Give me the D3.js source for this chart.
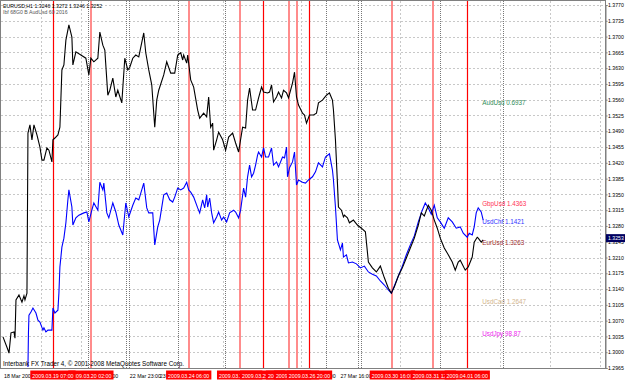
<!DOCTYPE html>
<html>
<head>
<meta charset="utf-8">
<script src="https://cdn.jsdelivr.net/npm/d3@7"></script>
<style>
    body { margin: 0; background: #fff; }
    svg { display: block; font-family: "Liberation Sans", Arial, sans-serif; }
</style>
</head>
<body>
<svg id="chart" width="625" height="380"></svg>
<script>
// EURUSD H1 close, [bar, price]
const eurusd = [
    [1,1.3034],[3.5,1.3005],[4,1.2998],[5,1.3043],[6.5,1.3045],[7,1.3031],[7.5,1.3116],[9,1.3127],
    [10.5,1.3111],[11.5,1.3125],[12,1.3116],[13,1.3131],[13.5,1.3486],[14.5,1.3504],[15.5,1.3471],
    [16.5,1.3504],[18,1.3482],[19.5,1.3455],[20.5,1.3426],[21.5,1.3426],[23,1.3453],[24,1.3448],
    [25.5,1.3422],[26,1.3471],[27,1.3475],[28.5,1.3482],[29.5,1.3499],[30.5,1.3626],[31.5,1.3637],
    [32.5,1.3692],[34,1.3726],[35.5,1.3699],[36,1.3637],[37.5,1.3666],[40,1.3659],[42.5,1.3652],
    [44,1.3615],[45,1.3652],[46.5,1.3644],[48.5,1.3652],[49.5,1.3710],[51,1.3681],[52,1.3670],
    [53.5,1.3570],[54.5,1.3581],[56,1.3608],[57.5,1.3566],[58.5,1.3581],[60.5,1.3553],[62,1.3652],
    [63.5,1.3626],[64.5,1.3632],[66,1.3652],[67.5,1.3659],[69,1.3655],[71.5,1.3708],[72.5,1.3664],
    [74,1.3626],[75.5,1.3593],[77,1.3499],[78,1.3559],[79,1.3581],[81.5,1.3615],[83,1.3644],
    [85,1.3619],[87,1.3619],[88.5,1.3659],[90,1.3664],[91,1.3648],[91.5,1.3659],[93,1.3641],
    [93.5,1.3659],[95,1.3604],[96.5,1.3588],[98.5,1.3537],[99.5,1.3519],[101.5,1.3530],[103,1.3522],
    [104,1.3566],[105,1.3499],[106,1.3508],[106.5,1.3448],[108,1.3471],[109,1.3488],[111,1.3471],
    [112.5,1.3448],[114,1.3477],[116,1.3486],[117.5,1.3464],[119,1.3444],[121,1.3499],[122.5,1.3497],
    [123.5,1.3559],[124.5,1.3586],[126,1.3537],[127.5,1.3537],[129,1.3564],[130.5,1.3588],[131.5,1.3577],
    [133.5,1.3575],[134.5,1.3577],[135.5,1.3593],[136.5,1.3555],[138,1.3566],[139,1.3577],[140.5,1.3564],
    [141.5,1.3581],[143,1.3575],[144,1.3564],[146,1.3597],[147,1.3621],[148,1.3566],[149,1.3548],
    [151,1.3530],[152,1.3526],[153,1.3508],[154.5,1.3526],[156.5,1.3526],[158,1.3530],[159,1.3553],
    [161,1.3559],[163,1.3570],[164.5,1.3575],[166,1.3559],[166.5,1.3537],[167.5,1.3471],[168.5,1.3375],
    [169,1.3322],[170.5,1.3315],[171.5,1.3300],[172,1.3304],[173.5,1.3298],[174.5,1.3287],[176.5,1.3293],
    [178.5,1.3282],[180.5,1.3275],[182.5,1.3267],[184,1.3200],[186,1.3187],[188,1.3178],[190,1.3191],
    [192,1.3165],[194,1.3142],[195.5,1.3131],[197,1.3145],[199,1.3169],[201,1.3187],[203,1.3209],
    [205,1.3231],[207,1.3253],[209,1.3282],[210.5,1.3309],[212,1.3302],[214,1.3326],[215.5,1.3315],
    [217,1.3293],[218.5,1.3275],[220,1.3253],[222,1.3231],[224,1.3216],[226,1.3200],[227.5,1.3182],
    [229,1.3200],[230,1.3204],[232.5,1.3182],[234,1.3189],[236,1.3211],[237,1.3244],[238.5,1.3255],
    [239,1.3253],[240.5,1.3244],[241.5,1.3249]
];

// UsdChf overlay, scaled onto the EURUSD axis, [bar, price]
const usdchf = [
    [13.5,1.2967],[13.75,1.3043],[14,1.3082],[15,1.3089],[16,1.3098],[17.5,1.3087],[18.5,1.3071],
    [19.5,1.3067],[21,1.3049],[21.5,1.3054],[22.5,1.3045],[23.5,1.3049],[25.5,1.3049],[26,1.3098],
    [27,1.3087],[28.5,1.3093],[29,1.3131],[29.5,1.3189],[30.5,1.3233],[31.5,1.3253],[32.5,1.3287],
    [33.5,1.3338],[34,1.3360],[35.5,1.3322],[36,1.3282],[37.5,1.3298],[39,1.3304],[41.5,1.3309],
    [43,1.3311],[44,1.3289],[45.5,1.3315],[46.5,1.3331],[48.5,1.3315],[49.5,1.3377],[51,1.3360],
    [51.5,1.3375],[53,1.3309],[54,1.3298],[56,1.3331],[57.5,1.3311],[59,1.3282],[61,1.3260],
    [62.5,1.3331],[64,1.3300],[66,1.3326],[67.5,1.3342],[69,1.3338],[71.5,1.3375],[73,1.3320],
    [74,1.3309],[76,1.3309],[77,1.3238],[78.5,1.3278],[79.5,1.3293],[81.5,1.3349],[83,1.3353],
    [84.5,1.3338],[86,1.3333],[87,1.3344],[88.5,1.3364],[90,1.3360],[91.5,1.3364],[93,1.3377],
    [94,1.3360],[95,1.3355],[96.5,1.3344],[98.5,1.3320],[99.5,1.3309],[101,1.3338],[102,1.3320],
    [103,1.3349],[103.5,1.3322],[104.5,1.3342],[105.5,1.3309],[106.5,1.3287],[108,1.3300],[109,1.3311],
    [110.5,1.3293],[111.5,1.3300],[113,1.3289],[114.5,1.3309],[116.5,1.3315],[117.5,1.3311],[119,1.3298],
    [120,1.3315],[121.5,1.3364],[122.5,1.3344],[123.5,1.3389],[124.5,1.3415],[125.5,1.3389],[126.5,1.3397],
    [127.5,1.3415],[128.5,1.3437],[129,1.3444],[130.5,1.3433],[131.5,1.3453],[132.5,1.3433],[134,1.3433],
    [135.5,1.3453],[136.5,1.3415],[138,1.3422],[139,1.3411],[141,1.3433],[142,1.3431],[143,1.3455],
    [143.5,1.3389],[144.5,1.3409],[146,1.3422],[147,1.3444],[148,1.3371],[149,1.3382],[151,1.3377],
    [152.5,1.3375],[154,1.3382],[156,1.3389],[157.5,1.3400],[159,1.3420],[161,1.3411],[162.5,1.3433],
    [164.5,1.3440],[166,1.3404],[166.5,1.3382],[167.5,1.3322],[168.5,1.3249],[170,1.3227],[171,1.3242],
    [171.5,1.3211],[173,1.3216],[174,1.3198],[176,1.3200],[178,1.3196],[180,1.3187],[182,1.3191],
    [184,1.3178],[186,1.3173],[188,1.3169],[190,1.3158],[192,1.3149],[194,1.3138],[195.5,1.3131],
    [197,1.3147],[199,1.3169],[201,1.3191],[203,1.3216],[205,1.3238],[207,1.3258],[209,1.3289],
    [211,1.3315],[212.5,1.3331],[214,1.3320],[215.5,1.3306],[217,1.3326],[218.5,1.3298],[220,1.3289],
    [222,1.3275],[224,1.3298],[226,1.3289],[228,1.3275],[230,1.3278],[231.5,1.3264],[233.5,1.3255],
    [234.5,1.3264],[236,1.3260],[237,1.3278],[238,1.3309],[239,1.3320],[240.5,1.3311],[241.5,1.3293]
];

const priceTicks = [1.3770,1.3735,1.3700,1.3665,1.3630,1.3595,1.3560,1.3525,1.3490,1.3455,1.3420,1.3385,
    1.3350,1.3315,1.3280,1.3245,1.3210,1.3175,1.3140,1.3105,1.3070,1.3035,1.3000,1.2965];
const lastPrice = 1.3253;

// vertical event lines (bar index, time, solid red or light)
const markerBars = [26, 45, 94, 119.5, 131, 144, 148, 154.5, 196, 216.5, 233.5];
const markerTimes = ["2009.03.19 07:00","2009.03.20 02:00","2009.03.24 06:00","2009.03.25 07:00",
    "2009.03.25 19:00","2009.03.26 08:00","2009.03.26 12:00","2009.03.26 20:00","2009.03.30 16:00",
    "2009.03.31 12:00","2009.04.01 06:00"];
const markerSolid = [true, false, false, false, true, false, false, true, false, false, true];

// time axis labels
const timeBars = [1, 42.5, 64, 79, 151.5, 169.5, 230];
const timeLabels = ["18 Mar 2009","20 Mar 03:00","22 Mar 23:00","23 Mar 19:00","26 Mar 21:00","27 Mar 16:00","1 Apr 03:00"];

// grid separators
const gridBars = [20, 40, 111, 150, 200, 250, 275, 300, 350, 380, 410, 456, 476, 490, 500, 523];
const sepBars = [43.5, 62.5, 64, 88.5, 112, 163, 179, 180.5, 220, 251.5];

// pair labels on the right
const pairNames = ["AudUsd 0.6937","GbpUsd 1.4363","UsdChf 1.1421","EurUsd 1.3263","UsdCad 1.2647","UsdJpy 98.87"];
const pairLevels = [1.3553, 1.3329, 1.3289, 1.3242, 1.3111, 1.3040];
const pairColors = ["#2e8b57","#ff3355","#3333ff","#a03030","#d2b48c","#ee22ee"];

const svg = d3.select('#chart');
const W = 625, H = 380;
const plotRight = 605.5, plotBottom = 368.5;

const x = d3.scaleLinear().domain([0, 302.75]).range([1, plotRight]);
const y = d3.scaleLinear().domain([1.2965, 1.3770]).range([368, 5]);

svg.append('rect').attr('width', W).attr('height', H).attr('fill', '#fff');

// horizontal grid
svg.append('g')
    .selectAll('line')
    .data(priceTicks)
    .enter().append('line')
    .attr('x1', 1).attr('x2', plotRight)
    .attr('y1', d => Math.round(y(d)) + 0.5).attr('y2', d => Math.round(y(d)) + 0.5)
    .attr('stroke', '#c8c8c8').attr('stroke-dasharray', '2,2');

// vertical grid
svg.append('g')
    .selectAll('line')
    .data(gridBars)
    .enter().append('line')
    .attr('x1', d => Math.round(x(d)) + 0.5).attr('x2', d => Math.round(x(d)) + 0.5)
    .attr('y1', 1).attr('y2', plotBottom)
    .attr('stroke', '#c8c8c8').attr('stroke-dasharray', '2,2');

svg.append('g')
    .selectAll('line')
    .data(sepBars)
    .enter().append('line')
    .attr('x1', d => Math.round(x(d)) + 0.5).attr('x2', d => Math.round(x(d)) + 0.5)
    .attr('y1', 1).attr('y2', plotBottom)
    .attr('stroke', '#777').attr('stroke-dasharray', '1,1');

// event lines
svg.append('g')
    .selectAll('line')
    .data(markerBars)
    .enter().append('line')
    .attr('x1', (d, i) => markerSolid[i] ? Math.round(x(d)) + 0.5 : Math.round(x(d)))
    .attr('x2', (d, i) => markerSolid[i] ? Math.round(x(d)) + 0.5 : Math.round(x(d)))
    .attr('y1', 1).attr('y2', plotBottom)
    .attr('stroke', (d, i) => markerSolid[i] ? '#ff0000' : '#ff8c8c')
    .attr('stroke-width', (d, i) => markerSolid[i] ? 1.2 : 2);

// price lines
const line = d3.line().x(d => x(d[0])).y(d => y(d[1]));

svg.append('path')
    .datum(usdchf)
    .attr('d', line)
    .attr('fill', 'none')
    .attr('stroke', '#0000ff')
    .attr('stroke-width', 1.1);

svg.append('path')
    .datum(eurusd)
    .attr('d', line)
    .attr('fill', 'none')
    .attr('stroke', '#000')
    .attr('stroke-width', 1.1);

// pair labels
svg.append('g')
    .selectAll('text')
    .data(pairNames)
    .enter().append('text')
    .attr('x', x(241))
    .attr('y', (d, i) => y(pairLevels[i]))
    .attr('dy', '0.35em')
    .attr('font-size', '6.3px')
    .attr('fill', (d, i) => pairColors[i])
    .text(d => d);

// header and copyright
svg.append('text').attr('x', 3).attr('y', 7.5)
    .attr('font-size', '5.2px').attr('fill', '#000')
    .text('EURUSD,H1  1.3246 1.3272 1.3246 1.3252');
svg.append('text').attr('x', 3).attr('y', 13.5)
    .attr('font-size', '5.2px').attr('fill', '#555')
    .text('Ibf 68G0 B AudUsd 60 2016');
svg.append('text').attr('x', 3).attr('y', 366)
    .attr('font-size', '6.3px').attr('fill', '#000')
    .text('Interbank FX Trader 4, \u00a9 2001-2008 MetaQuotes Software Corp.');

// frame
svg.append('rect')
    .attr('x', 0.5).attr('y', 0.5)
    .attr('width', plotRight - 0.5).attr('height', plotBottom - 0.5)
    .attr('fill', 'none').attr('stroke', '#808080');

// price axis
const yAxis = svg.append('g')
    .attr('transform', `translate(${plotRight},0)`)
    .call(d3.axisRight(y).tickValues(priceTicks).tickSize(2).tickPadding(0.5).tickFormat(d3.format('.4f')));
yAxis.select('.domain').attr('stroke', '#808080');
yAxis.selectAll('line').attr('stroke', '#808080');
yAxis.selectAll('text').attr('font-size', '5.2px').attr('font-family', '"Liberation Sans", Arial, sans-serif').attr('fill', '#000');

// last price tag
const lp = svg.append('g').attr('transform', `translate(${plotRight},${y(lastPrice)})`);
lp.append('rect').attr('x', 0.5).attr('y', -4).attr('width', 19).attr('height', 8).attr('fill', '#000060');
lp.append('text').attr('x', 2.5).attr('dy', '0.35em').attr('font-size', '5.2px').attr('fill', '#fff').text(d3.format('.4f')(lastPrice));

// time axis labels
svg.append('g')
    .selectAll('text')
    .data(timeLabels)
    .enter().append('text')
    .attr('x', (d, i) => x(timeBars[i]) + 1)
    .attr('y', 377.5)
    .attr('font-size', '5.3px')
    .attr('fill', '#000')
    .text(d => d);

// event time tags: later tags sit over earlier ones
const tags = svg.append('g')
    .selectAll('g')
    .data(markerTimes)
    .enter().append('g')
    .attr('transform', (d, i) => `translate(${x(markerBars[i])},0)`);
tags.append('text')
    .attr('y', 377.5)
    .attr('text-anchor', 'middle')
    .attr('font-size', '5.3px')
    .attr('fill', '#fff')
    .text(d => d);
tags.each(function() {
    const g = d3.select(this);
    const bb = g.select('text').node().getBBox();
    g.insert('rect', 'text')
        .attr('x', bb.x - 2).attr('y', 370.5)
        .attr('width', bb.width + 4).attr('height', 9)
        .attr('fill', '#ff0000');
});
// first tag is drawn above the second one in the original
tags.filter((d, i) => i === 0).raise();
</script>
</body>
</html>
